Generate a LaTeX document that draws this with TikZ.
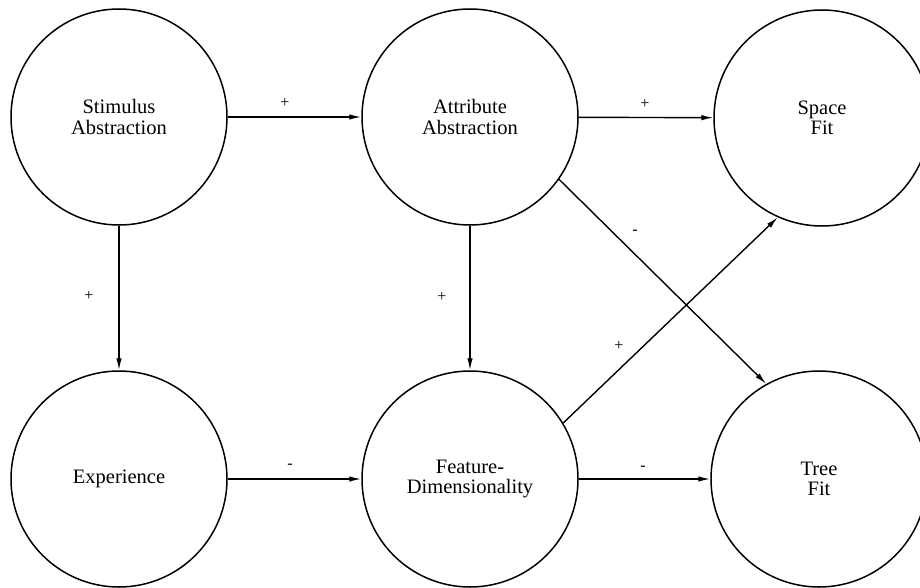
\documentclass[tikz,border=0pt]{standalone}
\usepackage{fontspec}
\setmainfont{Liberation Serif}
\usetikzlibrary{arrows.meta}
\begin{document}
\begin{tikzpicture}[x=1pt,y=-1pt,
  factor/.style={draw, circle, line width=1.5pt, minimum size=216pt, inner sep=0pt, align=center, font=\fontsize{20.5}{20.5}\selectfont},
  link/.style={line width=1.4pt, -{Latex[length=12pt,width=5.5pt]}},
  sign/.style={inner sep=0pt, font=\fontsize{16}{16}\selectfont}]
\useasboundingbox (0,0) rectangle (920,588);
\clip (0,0) rectangle (920,588);
\fill[white] (0,0) rectangle (920,588);
\node[factor] (stim) at (119,117) {Stimulus\\Abstraction};
\node[factor] (attr) at (470,117) {Attribute\\Abstraction};
\node[factor] (space) at (822,118) {Space\\Fit};
\node[factor] (exp) at (119,479) {Experience};
\node[factor] (feat) at (470,479) {Feature-\\Dimensionality};
\node[factor] (tree) at (819,479) {Tree\\Fit};
\draw[link] (stim) -- (attr);
\draw[link] (attr) -- (space);
\draw[link] (stim) -- (exp);
\draw[link] (attr) -- (feat);
\draw[link] (exp) -- (feat);
\draw[link] (feat) -- (tree);
\draw[link] (attr.-35) -- (tree.119);
\draw[link] (feat.31) -- (space.-114);
\node[sign] (s1) at (285,103) {+};
\node[sign] (s2) at (645,104) {+};
\node[sign] (s3) at (89,296) {+};
\node[sign] (s4) at (442,297) {+};
\node[sign] (s5) at (619,346) {+};
\node[sign] (s6) at (290,466) {-};
\node[sign] (s7) at (643,468) {-};
\node[sign] (s8) at (635,232) {-};
\end{tikzpicture}
\end{document}
